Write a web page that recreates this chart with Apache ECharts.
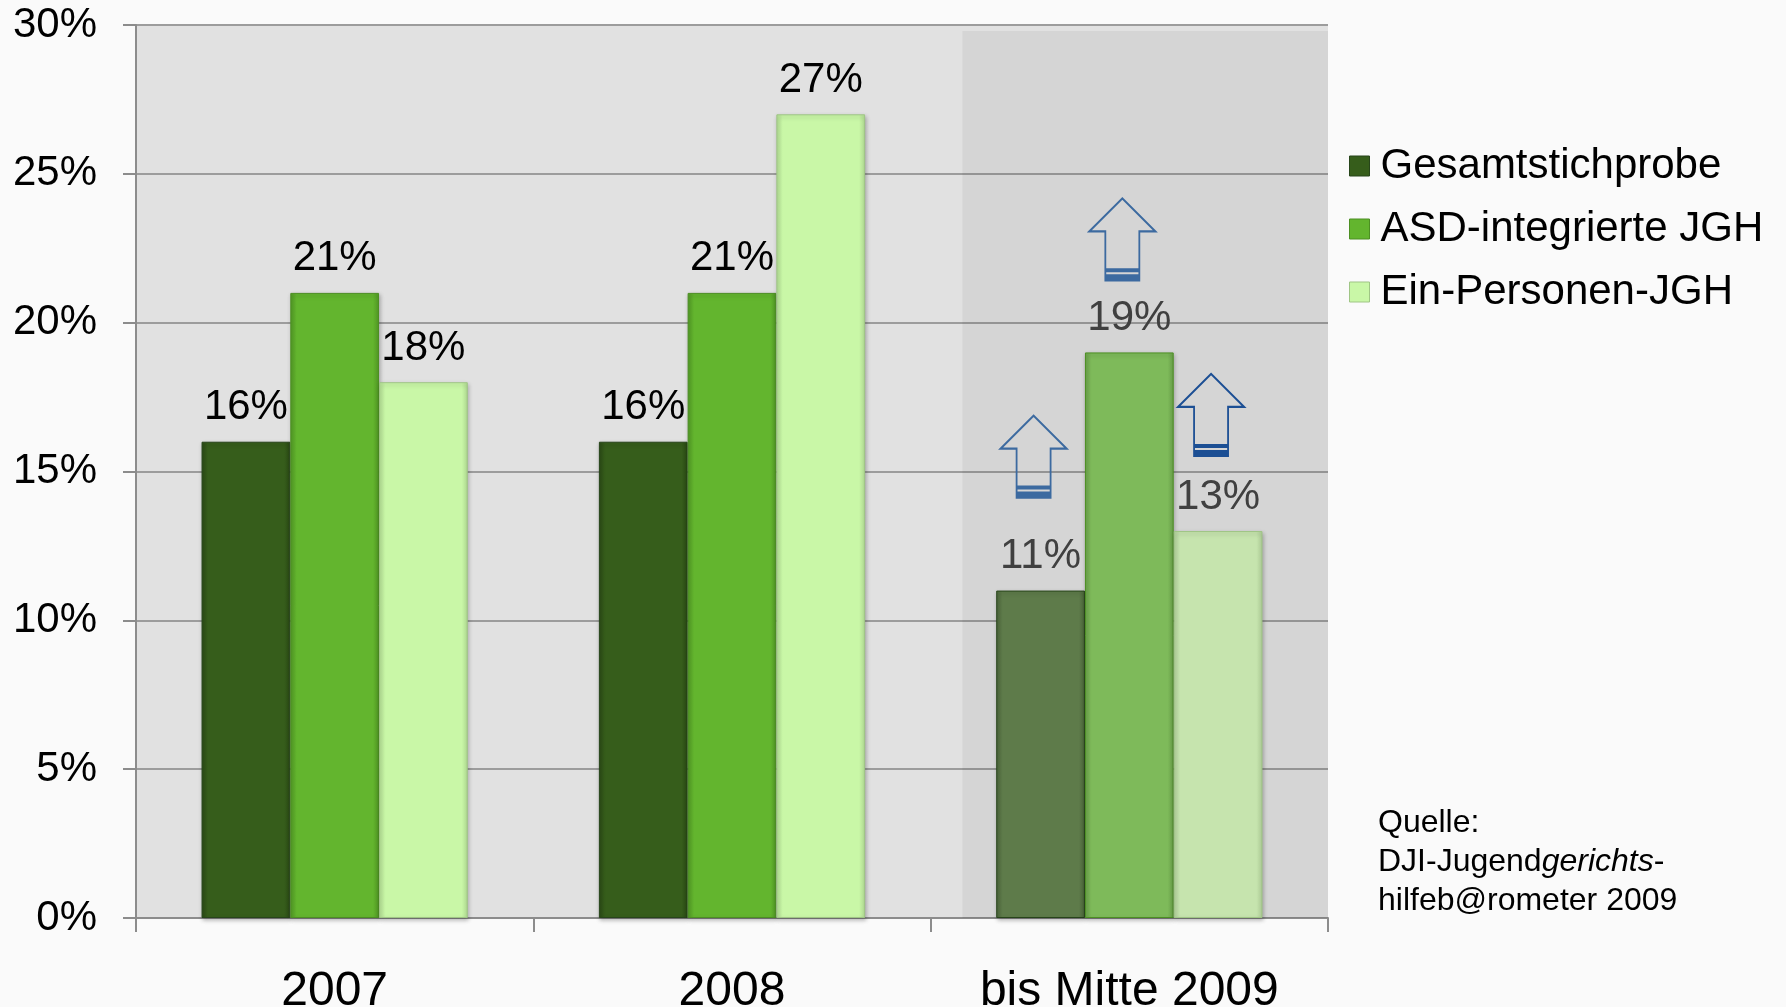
<!DOCTYPE html>
<html>
<head>
<meta charset="utf-8">
<script src="https://cdn.jsdelivr.net/npm/echarts@6/dist/echarts.min.js"></script>
<style>
  html, body { margin: 0; padding: 0; background: #fafafa; }
  #chart { width: 1786px; height: 1007px; }
</style>
</head>
<body>
<div id="chart"></div>
<script>
  // Daten
  const categories = ['2007', '2008', 'bis Mitte 2009']
  const gesamt = [16, 16, 11]
  const asd = [21, 21, 19]
  const einPersonen = [18, 27, 13]
  const seriesNames = ['Gesamtstichprobe', 'ASD-integrierte JGH', 'Ein-Personen-JGH']
  const arrowCentres = [15.5, 22.8, 16.9] // Pfeile über den Balken 2009 (in %)
  const shadeFrom = 2.08 // grauer Bereich für "bis Mitte 2009"
  const shadeTop = 29.8

  const FONT = '"Liberation Sans", Arial, sans-serif'

  // Farben: [normal, blass für 2009]
  const palette = [
    { base: '#365d1b', faded: '#5e7b4a', edge: '#2a4a15', fadedEdge: '#4c663b', border: '#27451a' },
    { base: '#63b52e', faded: '#7eba5a', edge: '#529a25', fadedEdge: '#6aa04a', border: '#4c8f22' },
    { base: '#c9f7a7', faded: '#c6e4ae', edge: '#b2dd93', fadedEdge: '#b0cf99', border: '#9fc585' },
  ]
  const arrowColors = ['#3c6aa0', '#3c6aa0', '#1c4f94']

  const arrowPath = 'path://M0,33 L33,0 L66,33 L50,33 L50,82 L16,82 L16,33 Z'
  const bandPath = 'path://M0,0 L34,0 L34,4 L0,4 Z M0,6 L34,6 L34,12 L0,12 Z'

  // leichter Facetten-Effekt an den Balkenkanten
  const bevel = (mid, edge) => new echarts.graphic.LinearGradient(0, 0, 1, 0, [
    { offset: 0, color: edge },
    { offset: 0.07, color: mid },
    { offset: 0.93, color: mid },
    { offset: 1, color: edge },
  ])

  const makeBar = (idx, values) => {
    const c = palette[idx]
    return {
      name: seriesNames[idx],
      type: 'bar',
      barGap: '0%',
      barCategoryGap: '33%',
      itemStyle: { color: bevel(c.base, c.edge), borderColor: c.border, borderWidth: 1,
        shadowColor: 'rgba(0,0,0,0.25)', shadowBlur: 4, shadowOffsetX: 1, shadowOffsetY: 2 },
      data: values.map((v, i) => ({
        value: v,
        itemStyle: i === 2 ? { color: bevel(c.faded, c.fadedEdge) } : undefined,
        label: { color: i === 2 ? '#404040' : '#000' },
      })),
      label: {
        show: true,
        position: 'top',
        distance: 13,
        formatter: '{c}%',
        fontSize: 42,
        fontFamily: FONT,
      },
      markPoint: {
        silent: true,
        label: { show: false },
        data: [
          {
            coord: [2, arrowCentres[idx]],
            symbol: arrowPath,
            symbolSize: [66, 82],
            symbolOffset: [-7, 0],
            itemStyle: { color: 'rgba(0,0,0,0)', borderColor: arrowColors[idx], borderWidth: 2 },
          },
          {
            coord: [2, arrowCentres[idx]],
            symbol: bandPath,
            symbolSize: [34, 12],
            symbolOffset: [-7, 35],
            itemStyle: { color: arrowColors[idx], borderWidth: 0 },
          },
        ],
      },
    }
  }

  const chart = echarts.init(document.getElementById('chart'))

  chart.setOption({
    backgroundColor: '#fafafa',
    animation: false,
    textStyle: { fontFamily: FONT },
    grid: {
      left: 136, right: 458, top: 25, bottom: 89,
      outerBoundsMode: 'none',
      show: true, backgroundColor: '#e1e1e1', borderWidth: 0,
    },
    legend: {
      orient: 'vertical',
      left: 1344,
      top: 139,
      itemWidth: 20,
      itemHeight: 20,
      itemGap: 19,
      icon: 'rect',
      itemStyle: { borderWidth: 1 },
      textStyle: { fontSize: 42, color: '#000', fontFamily: FONT, lineHeight: 44, padding: [0, 0, 0, 6] },
      data: seriesNames,
    },
    xAxis: [
      {
        type: 'category',
        data: categories,
        axisLine: { lineStyle: { color: '#8c8c8c', width: 2 } },
        axisTick: { show: true, length: 14, lineStyle: { color: '#8c8c8c', width: 2 } },
        axisLabel: { fontSize: 48, color: '#000', margin: 50, fontFamily: FONT },
      },
      { type: 'value', min: 0, max: 3, show: false },
    ],
    yAxis: {
      type: 'value',
      min: 0,
      max: 30,
      interval: 5,
      axisLine: { show: true, lineStyle: { color: '#8c8c8c', width: 2 } },
      axisTick: { show: true, length: 13, lineStyle: { color: '#8c8c8c', width: 2 } },
      axisLabel: { formatter: '{value}%', fontSize: 42, color: '#000', margin: 39, fontFamily: FONT },
      splitLine: { lineStyle: { color: '#9c9c9c', width: 2 } },
    },
    graphic: [
      {
        type: 'text',
        left: 1378,
        top: 804,
        style: {
          text: 'Quelle:\nDJI-Jugend{i|gerichts}-\nhilfeb@rometer 2009',
          fontSize: 32,
          fontFamily: FONT,
          lineHeight: 39,
          fill: '#000',
          rich: { i: { fontStyle: 'italic', fontSize: 32, fontFamily: FONT, lineHeight: 39 } },
        },
      },
    ],
    series: [
      {
        type: 'line',
        xAxisIndex: 1,
        data: [],
        silent: true,
        z: 1,
        markArea: {
          silent: true,
          itemStyle: { color: 'rgba(0,0,0,0.05)' },
          data: [[{ coord: [shadeFrom, shadeTop] }, { coord: [3, 0] }]],
        },
      },
      makeBar(0, gesamt),
      makeBar(1, asd),
      makeBar(2, einPersonen),
    ],
  })
</script>
</body>
</html>
